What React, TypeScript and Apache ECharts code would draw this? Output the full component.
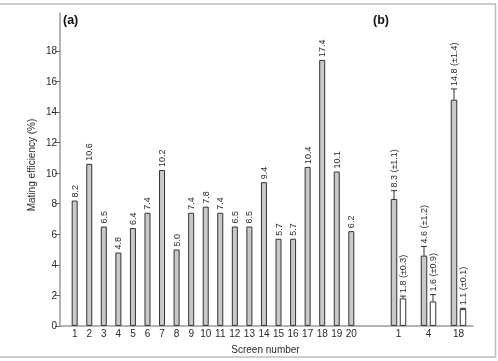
import React, { useEffect, useRef } from "react";
import * as echarts from "echarts";

// Panel (a): mating efficiency of each screen
const screens = ["1","2","3","4","5","6","7","8","9","10","11","12","13","14","15","16","17","18","19","20"];
const efficiency = [8.2, 10.6, 6.5, 4.8, 6.4, 7.4, 10.2, 5.0, 7.4, 7.8, 7.4, 6.5, 6.5, 9.4, 5.7, 5.7, 10.4, 17.4, 10.1, 6.2];

// Panel (b): selected screens, two conditions with ± spread
const selected = ["1", "4", "18"];
const greyMeans = [8.3, 4.6, 14.8];
const greyErr = [1.1, 1.2, 1.4];
const whiteMeans = [1.8, 1.6, 1.1];
const whiteErr = [0.3, 0.9, 0.1];

const yTicks = [0, 2, 4, 6, 8, 10, 12, 14, 16, 18];

const FONT = "'Liberation Sans', Arial, sans-serif";
const TEXT = "#2a2a2a";
const AXIS = "#9a9a9a";
const GRID_TOP = 13.3;
const GRID_H = 312.6;
const Y_MAX = 20.45;

function whiskerSeries(means: number[], errs: number[], offset: number) {
  return {
    type: "custom",
    xAxisIndex: 2,
    yAxisIndex: 2,
    silent: true,
    z: 5,
    data: means.map((m, i) => [i, m, errs[i]]),
    renderItem: (_params: any, api: any) => {
      const i = api.value(0);
      const v = api.value(1);
      const e = api.value(2);
      const p = api.coord([i, v]);
      const x = p[0] + offset;
      // whisker drawn upward over half of the ± range
      const top = api.coord([i, v + e / 2])[1];
      const label = `${v.toFixed(1)} (\u00b1${e.toFixed(1)})`;
      return {
        type: "group",
        children: [
          {
            type: "line",
            shape: { x1: x, y1: p[1], x2: x, y2: top },
            style: { stroke: "#333", lineWidth: 1 },
          },
          {
            type: "line",
            shape: { x1: x - 3, y1: top, x2: x + 3, y2: top },
            style: { stroke: "#333", lineWidth: 1 },
          },
          {
            type: "text",
            x: x,
            y: top - 3,
            rotation: Math.PI / 2,
            style: {
              text: label,
              fontSize: 9,
              fontFamily: FONT,
              fill: TEXT,
              align: "left",
              verticalAlign: "middle",
            },
          },
        ],
      };
    },
  };
}

export default function App() {
  const ref = useRef<HTMLDivElement>(null);

  useEffect(() => {
    if (!ref.current) return;
    const chart = echarts.init(ref.current, null, { renderer: "svg" });

    const hiddenY = (idx: number) => ({
      type: "value",
      gridIndex: idx,
      min: 0,
      max: Y_MAX,
      show: false,
      splitLine: { show: false },
    });

    const barLabel = {
      show: true,
      position: "top",
      rotate: 90,
      align: "left",
      verticalAlign: "middle",
      distance: 3,
      fontSize: 9,
      fontFamily: FONT,
      color: TEXT,
      formatter: (p: any) => Number(p.value).toFixed(1),
    };

    chart.setOption({
      animation: false,
      textStyle: { fontFamily: FONT },
      grid: [
        { left: 60, top: GRID_TOP, width: 413, height: GRID_H },
        { left: 67.4, top: GRID_TOP, width: 291.2, height: GRID_H },
        { left: 383.5, top: GRID_TOP, width: 90, height: GRID_H },
      ],
      xAxis: [
        {
          type: "category",
          gridIndex: 0,
          data: [""],
          axisLine: { show: true, lineStyle: { color: AXIS, width: 1.5 } },
          axisTick: { show: false },
          axisLabel: { show: false },
        },
        {
          type: "category",
          gridIndex: 1,
          data: screens,
          axisLine: { show: false },
          axisTick: { show: false },
          axisLabel: { fontSize: 10, color: TEXT, margin: 3, fontFamily: FONT, interval: 0 },
        },
        {
          type: "category",
          gridIndex: 2,
          data: selected,
          axisLine: { show: false },
          axisTick: { show: false },
          axisLabel: { fontSize: 10, color: TEXT, margin: 3, fontFamily: FONT, interval: 0 },
        },
      ],
      yAxis: [
        {
          type: "value",
          gridIndex: 0,
          min: 0,
          max: Y_MAX,
          interval: 2,
          splitLine: { show: false },
          axisLine: { show: true, lineStyle: { color: AXIS, width: 1.5 } },
          axisTick: {
            show: true,
            length: 5,
            lineStyle: { color: "#666" },
            customValues: yTicks,
          },
          axisLabel: {
            fontSize: 10,
            color: TEXT,
            margin: 3,
            fontFamily: FONT,
            customValues: yTicks,
          },
        },
        hiddenY(1),
        hiddenY(2),
      ],
      series: [
        {
          type: "bar",
          xAxisIndex: 1,
          yAxisIndex: 1,
          data: efficiency,
          barWidth: 6,
          itemStyle: { color: "#c9c9c9", borderColor: "#333", borderWidth: 1 },
          label: barLabel,
        },
        {
          type: "bar",
          xAxisIndex: 2,
          yAxisIndex: 2,
          data: greyMeans,
          barWidth: 6.5,
          barGap: "38%",
          itemStyle: { color: "#c9c9c9", borderColor: "#333", borderWidth: 1 },
        },
        {
          type: "bar",
          xAxisIndex: 2,
          yAxisIndex: 2,
          data: whiteMeans,
          barWidth: 6.5,
          barGap: "38%",
          itemStyle: { color: "#ffffff", borderColor: "#333", borderWidth: 1 },
        },
        whiskerSeries(greyMeans, greyErr, -4.5),
        whiskerSeries(whiteMeans, whiteErr, 4.5),
      ],
      graphic: [
        {
          type: "rect",
          shape: { x: -2, y: 4, width: 497.5, height: 353 },
          style: { fill: "none", stroke: "#bdbdbd", lineWidth: 1.5 },
          silent: true,
        },
        {
          type: "text",
          x: 31,
          y: 165,
          rotation: Math.PI / 2,
          style: {
            text: "Mating efficiency (%)",
            fontSize: 10,
            fontFamily: FONT,
            fill: TEXT,
            align: "center",
            verticalAlign: "middle",
          },
        },
        {
          type: "text",
          x: 265.5,
          y: 349,
          style: {
            text: "Screen number",
            fontSize: 10,
            fontFamily: FONT,
            fill: TEXT,
            align: "center",
            verticalAlign: "middle",
          },
        },
        {
          type: "text",
          x: 63,
          y: 20,
          style: {
            text: "(a)",
            fontSize: 12.5,
            fontWeight: "bold",
            fontFamily: FONT,
            fill: "#111",
            align: "left",
            verticalAlign: "middle",
          },
        },
        {
          type: "text",
          x: 373,
          y: 20,
          style: {
            text: "(b)",
            fontSize: 12.5,
            fontWeight: "bold",
            fontFamily: FONT,
            fill: "#111",
            align: "left",
            verticalAlign: "middle",
          },
        },
      ],
    });

    return () => chart.dispose();
  }, []);

  return (
    <div
      ref={ref}
      style={{ position: "fixed", left: 0, top: 0, width: 498, height: 361 }}
    />
  );
}
